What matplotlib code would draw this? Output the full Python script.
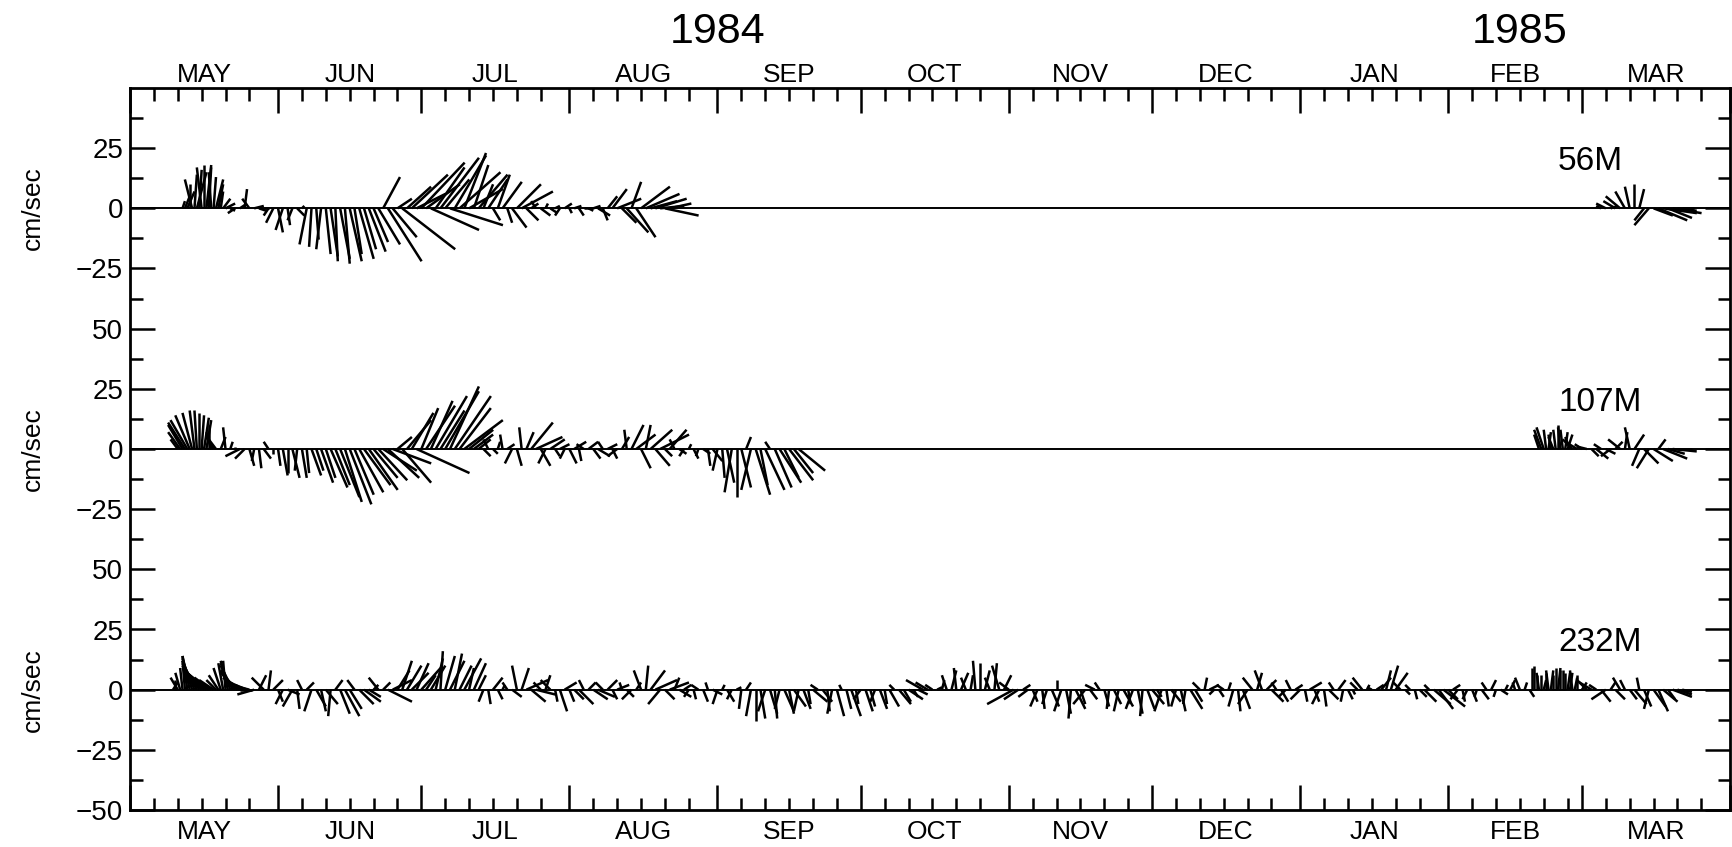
"""
Current-meter stick plot, 56 m / 107 m / 232 m, May 1984 - Mar 1985.
"""
import numpy as np
import matplotlib
matplotlib.use('Agg')
import matplotlib.pyplot as plt
from matplotlib.collections import LineCollection

plt.rcParams['font.family'] = ['Liberation Sans', 'DejaVu Sans']

START = np.datetime64('1984-05-01T00', 'h')
END = np.datetime64('1985-04-01T00', 'h')
MONTH_NAMES = ['MAY', 'JUN', 'JUL', 'AUG', 'SEP', 'OCT', 'NOV', 'DEC',
               'JAN', 'FEB', 'MAR']
YEAR_LABELS = ['1984', '1985']
YEAR_DATES = ['1984-09-01', '1985-02-16']
DEPTHS = ['56M', '107M', '232M']
OFFSETS = [200, 100, 0]          # baseline of each record on the shared axis
Y_LABELS = ['−50', '−25', '0', '25', '50', '−25', '0', '25', '50',
            '−25', '0', '25']

# daily vectors (cm/s): east component u, north component v
# 56M, first record, daily from 1984-05-12
U56_A = [1, 3, -3, 4, -2, 2, -1, 3, 1, 4,
         2, -3, 3, 1, -3, 4, 3, 2, -2, -3,
         2, -3, 1, -2, 3, 1, -3, -1, 1, -2,
         2, 3, 1, 4, 2, 5, 3, 6, 5, 7,
         6, 9, 7, 14, 10, 6, 22, 10, 15, 12,
         18, 14, 20, 12, 16, 10, 22, 13, 17, 9,
         14, 6, 12, 4, 8, 3, 5, 8, 2, 6,
         10, 13, 5, 3, -2, 4, 1, 3, 2, -2,
         3, 1, 3, 2, 4, 2, 3, 5, 2, 4,
         6, 10, 6, 9, 4, 8, 12, 14, 11, 13,
         10, 14, 9]
V56_A = [3, 7, 12, 15, 17, 18, 15, 12, 7, 2,
         -1, -2, 2, 8, 4, 1, -1, 0, -3, -6,
         -10, -9, -7, -5, -3, 1, -15, -16, -13, -17,
         -19, -20, -22, -21, -23, -22, -19, -21, -17, -18,
         -14, -15, 13, -22, -12, 4, -17, 9, 14, 6,
         19, 10, -9, 17, 21, 12, -7, 22, 15, 23,
         8, 18, 14, 10, 12, -5, 14, 11, -6, -8,
         10, 7, -5, 2, 3, -3, 2, -2, 1, -3,
         2, -2, 1, -3, 0, -1, 1, -3, -5, 5,
         8, 4, -6, -10, 11, -12, 9, 6, 3, 4,
         1, -3, 2]
# 56M, extra mid-day vectors in the mid-May burst, from 1984-05-12 12h
U56_M = [2, 0, 1, 1, 0, 1, 1, 2, 3]
V56_M = [5, 10, 14, 16, 18, 17, 13, 10, 4]
# 56M, second record, daily from 1985-03-05
U56_B = [-2, -4, 3, -5, -6, -4, -2, 0, 2, -4, -6, 8, 12, 14, 10, 12, 8, 5]
V56_B = [1, 2, 1, 3, 5, 7, 9, 10, 8, -5, -7, -3, -5, -2, -4, -2, -1, 0]

# 107M, first record, daily from 1984-05-11
U107_A = [-3, -6, -7, -4, -1, 1, 2, -2, -3, 2,
          -1, 1, 0, -6, -4, 2, -1, 1, 3, -2,
          0, 1, 2, 0, 3, -1, 2, 1, 4, 3,
          5, 4, 7, 6, 8, 7, 9, 8, 10, 11,
          12, 10, 12, 14, 13, 16, 6, 12, 10, 9,
          22, 7, 12, 9, 13, 10, 14, 12, 15, 13,
          16, 10, 8, 5, 3, -2, 2, 1, -1, 3,
          -3, 2, -1, 3, 9, 11, 4, -3, 6, 2,
          4, -2, 3, 5, 1, -3, 4, 3, 5, -2,
          4, 2, -4, 3, -1, 5, 8, 4, 2, 9,
          6, 12, 3, 7, -2, 3, -2, 1, 2, -1,
          3, 1, 4, -2, 1, 3, -3, 0, 4, 2,
          -4, 6, 3, 8, -2, 7, 9, 6, 10, 8,
          11]
V107_A = [4, 10, 12, 15, 16, 14, 12, 7, 4, 5,
          9, 3, 1, -3, -4, -7, -5, -8, -4, 3,
          -2, -7, -11, -10, -12, -9, -12, -10, -11, -9,
          -14, -12, -16, -15, -20, -22, -23, -19, -18, -15,
          -17, -12, -13, -9, -12, -6, 5, -14, 12, 15,
          -10, 17, 18, 20, 22, 16, 24, 26, 22, 17,
          12, 8, 6, 4, -3, 4, -2, 3, 6, 2,
          -6, -7, 9, 7, 11, 5, -7, -6, 4, -3,
          2, -4, -6, 3, -5, 2, 3, -4, -3, 3,
          2, -4, -3, 5, 8, 10, 6, -8, 10, 8,
          -7, 6, -3, 8, 4, -2, -3, 2, -4, -3,
          -2, -7, -5, -9, -12, -14, -18, -20, -16, 5,
          -17, -19, -15, -17, 3, -16, -14, -12, -13, -10,
          -9]
# 107M, extra mid-day vectors in the mid-May burst, from 1984-05-11 12h
U107_M = [-5, -7, -6, -2, 0, 2, 0, -3]
V107_M = [7, 11, 14, 16, 15, 13, 10, 5]
# 107M, second record, daily from 1985-02-20
U107_B = [-2, -3, 1, -2, 0, -1, 2, -4, -5, -3,
          -4, 3, 5, -3, 4, -4, 3, -5, 1, -2,
          4, -3, 6, -5, 8, 3, 10, 7, 10, 6]
V107_B = [6, 9, 7, 5, 10, 8, 6, 4, 3, 2,
          1, -3, -4, 2, -2, -3, 3, 4, 7, 9,
          6, -7, -6, -8, -5, 4, -4, -2, -1, 0]
# 107M, extra mid-day vectors, from 1985-02-20 12h
U107_N = [-3, -1, -1, -1, -1, 1, -2]
V107_N = [8, 8, 6, 8, 9, 7, 5]

# 232M, full record, daily from 1984-05-10
U232 = [2, -3, -1, -2, -4, -6, -8, -8, -7, -4,
        -3, -1, -4, -6, -7, -6, -4, -7, 3, -5,
        1, 4, 2, -3, 5, -4, 1, -2, 3, -3,
        4, 2, 5, -1, 3, 4, 6, 5, -3, 6,
        7, 5, 2, -4, 3, 10, 8, 5, 4, 6,
        7, 5, 8, 4, 6, 3, 1, 4, 6, 3,
        5, 7, 2, 5, 3, -2, 1, 4, 2, 1,
        -2, 4, -2, 3, 9, 6, 8, -3, 2, -4,
        1, 3, 5, 2, 4, 6, -2, 3, 6, 7,
        -3, 4, 2, 5, -1, 3, -4, 2, -3, 1,
        6, 9, -5, 4, 8, 2, 5, 3, -2, 1,
        -3, 2, -1, 4, -2, 1, 3, -2, 2, -1,
        2, -2, 0, 2, -3, 3, 1, -2, 4, 2,
        5, -2, 3, 1, 6, -3, 4, 1, -2, 3,
        -1, 2, 4, 1, -3, 3, 2, -2, 3, 1,
        4, -2, 5, 3, 6, 2, 4, -7, -5, -3,
        2, 1, -2, 2, -1, 3, -2, 1, -1, 0,
        2, -2, 1, -3, 3, -4, -11, -6, 3, -4,
        2, -3, 1, -2, 3, 0, -3, 2, -1, 4,
        2, -5, 3, -4, -2, 2, -1, 3, -2, 4,
        1, -3, 2, -1, 3, 5, 2, -3, 1, 4,
        -2, 2, -1, 5, 3, -3, 1, 4, -2, 2,
        -3, 1, -2, 1, 3, -4, -4, 2, -3, 4,
        5, -2, 3, -3, -2, 3, -4, 1, 5, 2,
        -3, 1, 4, -2, 3, -1, 2, 1, -3, -4,
        1, -2, 3, 4, 2, 3, 5, -3, 2, -2,
        1, 3, 5, -2, 7, 6, 9, 4, 3, -3,
        1, -2, 2, -1, 3, -2, 2, -1, 3, 1,
        2, -1, -2, 1, 2, 0, -1, 1, -1, 0,
        1, 0, 1, -1, 0, 2, -4, -5, -3, 4,
        -6, 2, 4, -3, -2, 3, 5, -1, 3, -2,
        5, 4, 6, 3, 8, 6, 4]
V232 = [3, 5, 9, 14, 13, 11, 9, 7, 5, 4,
        9, 12, 11, 8, 5, 3, 1, -2, 6, 5,
        8, 4, -5, -6, -2, -7, -8, 4, 3, -9,
        -7, -9, -6, -11, 4, -10, -11, -8, 4, -6,
        -5, -3, 2, 5, 3, -5, 4, 8, 12, 10,
        7, 11, 9, 6, 10, 13, 16, 14, 12, 15,
        10, 13, 9, 11, 6, -5, -6, 5, -4, 2,
        3, -3, 10, 9, 4, -5, -2, 3, 6, 4,
        -5, -9, 3, -5, -4, -6, 4, 3, -4, -3,
        3, 4, -4, 2, 3, -3, -4, 3, 8, 10,
        8, 4, -6, -4, 3, 5, -3, 2, -3, -4,
        2, -5, 3, -2, -6, 2, -5, -4, 1, -8,
        3, -11, -13, -12, -9, -10, -12, -8, -9, -10,
        -7, -9, -8, -6, -5, 2, -5, -9, -10, -11,
        2, -8, -11, -6, -4, -9, -7, -5, -8, -6,
        -7, 2, -6, -5, -4, -3, -2, 4, 3, 2,
        1, 4, 6, 8, 9, 7, 5, 6, 12, 11,
        8, 5, 11, 10, 6, 3, -6, -4, 2, -3,
        -5, -7, -8, -6, -7, 4, -9, -10, -12, -8,
        -6, -6, -4, 2, 3, -7, -8, -6, -9, -7,
        -6, -8, -10, -11, -8, -6, -3, -9, -7, -5,
        -7, -9, -6, -8, -5, 3, 5, 2, -2, -3,
        2, 3, -7, -9, -8, -6, 5, 7, 8, 4,
        -5, 3, -5, -3, 4, 2, -4, -5, 3, -5,
        -6, -7, -4, 3, 4, -5, -4, -2, 3, 5,
        2, 1, 2, 5, 8, 10, 7, 3, -2, 2,
        -4, -3, -5, 2, -6, -8, -7, -4, 2, -4,
        -5, -4, -5, -3, -4, 3, 4, -3, -2, 2,
        4, 3, 5, 3, -3, 10, 7, 4, 8, 6,
        9, 8, 7, 8, 6, 3, 4, 3, 2, -5,
        -4, 3, -4, 5, 4, -4, -6, 5, -7, -8,
        -7, -9, -5, -4, -3, -2, -1]
# 232M, extra mid-day vectors in the May bursts, from 1984-05-10 12h
U232_M = [0, -2, -1, -3, -5, -7, -8, -8, -6, -4,
          -2, -3, -5, -7, -7, -5, -5]
V232_M = [4, 7, 12, 14, 12, 10, 8, 6, 4, 6,
          11, 12, 10, 7, 4, 2, 0]
# 232M, extra mid-day vectors in the late-February burst, from 1985-02-18 12h
U232_N = [0, 0, 0, 0, 1, 0, 0, 0, 1, 1]
V232_N = [9, 6, 6, 7, 8, 9, 8, 7, 7, 5]

RECORDS = [
    (0, '1984-05-12T00', U56_A, V56_A),
    (0, '1984-05-12T12', U56_M, V56_M),
    (0, '1985-03-05T00', U56_B, V56_B),
    (1, '1984-05-11T00', U107_A, V107_A),
    (1, '1984-05-11T12', U107_M, V107_M),
    (1, '1985-02-20T00', U107_B, V107_B),
    (1, '1985-02-20T12', U107_N, V107_N),
    (2, '1984-05-10T00', U232, V232),
    (2, '1984-05-10T12', U232_M, V232_M),
    (2, '1985-02-18T12', U232_N, V232_N),
]


def day(date_str):
    return (np.datetime64(date_str, 'h') - START).astype(int) / 24.0


fig = plt.figure(figsize=(17.32, 8.47), dpi=100)
ax = fig.add_axes([130 / 1732, 1 - 810 / 847, 1600 / 1732, 722 / 847])
x_max = (END - START).astype(int) / 24.0
ax.set_xlim(0, x_max)
ax.set_ylim(-50, 250)

# days per cm/s so that a stick keeps its true direction on the page
bbox = ax.get_window_extent()
k = (bbox.height / 300.0) / (bbox.width / x_max)

segs = []
for panel, start, u, v in RECORDS:
    t0 = day(start)
    base = OFFSETS[panel]
    for i, (uu, vv) in enumerate(zip(u, v)):
        t = t0 + i
        segs.append([(t, base), (t + uu * k, base + vv)])
ax.add_collection(LineCollection(segs, colors='black', linewidths=1.8,
                                 capstyle='butt'))

for off in OFFSETS:
    ax.axhline(off, color='black', lw=1.4)

# axis ticks
months = np.arange('1984-05', '1985-05', dtype='datetime64[M]')
month_days = np.array([day(str(m) + '-01') for m in months])
ax.set_xticks(month_days)
minor = [m + s for m in month_days[:-1] for s in (5, 10, 15, 20, 25)]
ax.set_xticks(minor, minor=True)
ax.set_xticklabels([])
ax.set_yticks(np.arange(-50, 250, 25))
ax.set_yticklabels(Y_LABELS, fontsize=20)
ax.set_yticks(np.arange(-50, 250, 12.5), minor=True)
ax.tick_params(which='both', direction='in', top=True, right=True,
               width=1.8, color='black')
ax.tick_params(which='major', length=18, pad=5)
ax.tick_params(which='minor', length=9)
for sp in ax.spines.values():
    sp.set_linewidth(2)

xt = ax.get_xaxis_transform()
for i, name in enumerate(MONTH_NAMES):
    c = 0.5 * (month_days[i] + month_days[i + 1])
    ax.text(c, 1.009, name, transform=xt, ha='center', va='baseline',
            fontsize=19)
    ax.text(c, -0.040, name, transform=xt, ha='center', va='baseline',
            fontsize=19)

for lab, d in zip(YEAR_LABELS, YEAR_DATES):
    ax.text(day(d), 1.078, lab, transform=xt, ha='center', va='center',
            fontsize=31, color='black')

for name, off in zip(DEPTHS, OFFSETS):
    ax.text(day('1985-02-24'), off + 19.5, name, ha='left', va='center',
            fontsize=24, color='black')

yt = ax.get_yaxis_transform()
for off in OFFSETS:
    ax.text(-0.061, off, 'cm/sec', transform=yt, rotation=90,
            ha='center', va='center', fontsize=19)

fig.savefig('out.png', dpi=100)
